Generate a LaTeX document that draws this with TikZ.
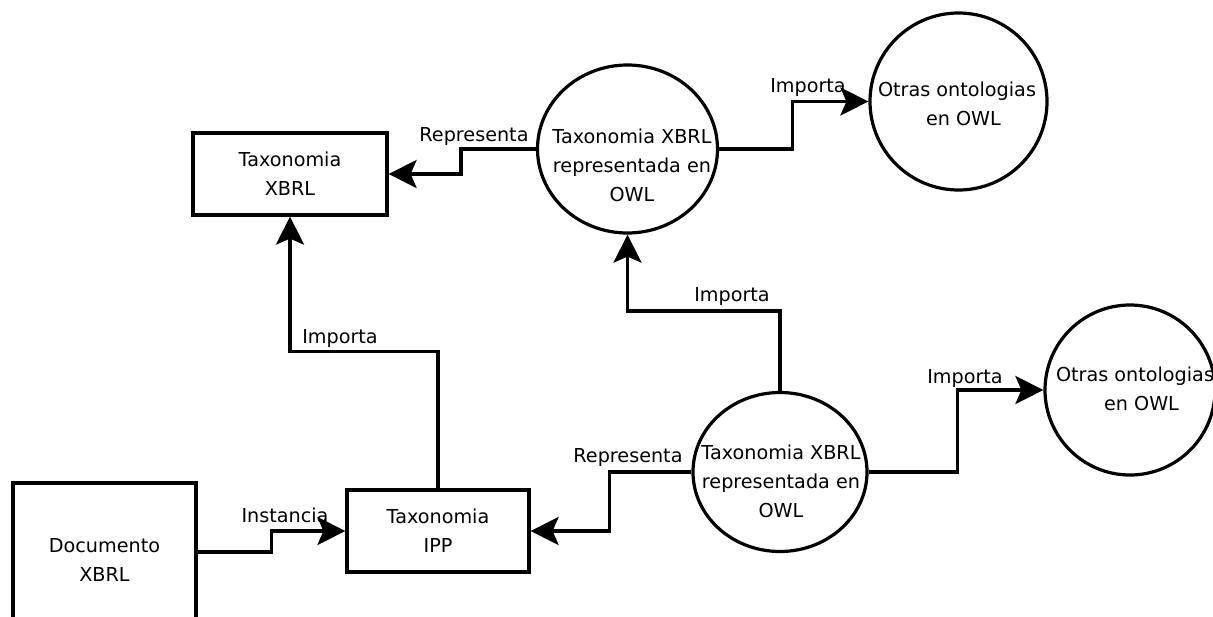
\documentclass[tikz,border=0pt]{standalone}
\usepackage{fontspec}
\setmainfont{DejaVu Sans}
\usetikzlibrary{arrows.meta,shapes.geometric}
\begin{document}
\begin{tikzpicture}[x=1pt,y=-1pt,
  every node/.style={font=\fontsize{19.2}{29}\selectfont, inner sep=0pt},
  box/.style={draw, line width=3.2pt, rectangle, align=center},
  bubble/.style={draw, line width=3.2pt, ellipse},
  txt/.style={align=center},
  lbl/.style={},
  conn/.style={line width=3.2pt, -{Stealth[length=28pt,width=28pt,inset=6pt]}}]
\useasboundingbox[fill=white] (0,0) rectangle (1213,616);

% boxes
\node[box, minimum width=183pt, minimum height=154pt] (doc) at (104.5,560) {Documento\\XBRL};
\node[box, minimum width=182pt, minimum height=82pt] (ipp) at (438,531) {Taxonomia\\IPP};
\node[box, minimum width=194pt, minimum height=82pt] (tax) at (290,174) {Taxonomia\\XBRL};

% bubbles
\node[bubble, minimum width=180pt, minimum height=168pt] (c1) at (627.5,149) {};
\node[txt] (c1t) at (632,165) {Taxonomia XBRL\\representada en\\OWL};
\node[bubble, minimum width=177pt, minimum height=177pt] (c2) at (958.5,101.5) {};
\node[txt] (c2t) at (957,104) {Otras ontologias\\\hspace*{13pt}en OWL};
\node[bubble, minimum width=174pt, minimum height=159pt] (c3) at (780,472) {};
\node[txt] (c3t) at (781,481) {Taxonomia XBRL\\representada en\\OWL};
\node[bubble, minimum width=170pt, minimum height=170pt] (c4) at (1130,390) {};
\node[txt] (c4t) at (1135,389) {Otras ontologias\\\hspace*{13pt}en OWL};

% connectors
\draw[conn] ([yshift=8pt]doc.east) -- ++(74,0) |- (ipp.west);
\draw[conn] (ipp.north) -- ++(0,-137) -| (tax.south);
\draw[conn] (c1.west) -- ++(-75,0) |- (tax.east);
\draw[conn] (c1.east) -- ++(73,0) |- (c2.west);
\draw[conn] (c3.north) -- ++(0,-80) -| (c1.south);
\draw[conn] (c3.west) -- ++(-82,0) |- (ipp.east);
\draw[conn] (c3.east) -- ++(89,0) |- (c4.west);

% labels
\node[lbl] (l1) at (285,515) {Instancia};
\node[lbl] (l2) at (340,338) {Importa};
\node[lbl] (l3) at (474,136) {Representa};
\node[lbl] (l4) at (808,87) {Importa};
\node[lbl] (l5) at (732,296) {Importa};
\node[lbl] (l6) at (628,457) {Representa};
\node[lbl] (l7) at (965,378) {Importa};
\end{tikzpicture}
\end{document}
